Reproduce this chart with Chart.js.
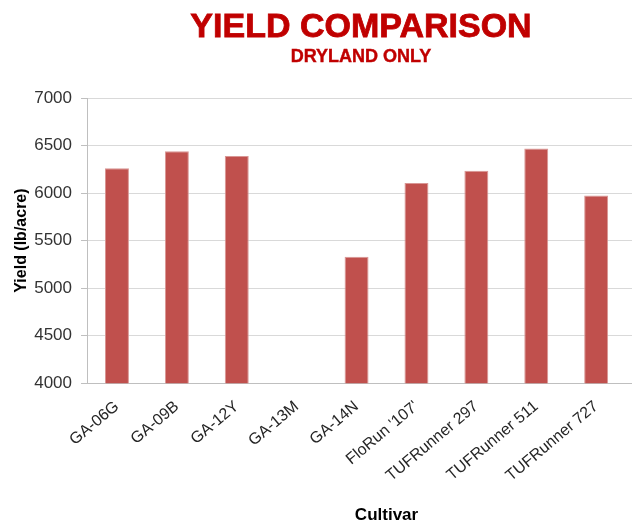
<!DOCTYPE html>
<html>
<head>
<meta charset="utf-8">
<script src="https://cdn.jsdelivr.net/npm/chart.js@4.4.0/dist/chart.umd.min.js"></script>
<style>
  html, body { margin: 0; padding: 0; background: #fff; overflow: hidden; }
  #wrap { position: relative; width: 700px; height: 526px; }
  .title {
    position: absolute; left: 0; width: 722px; text-align: center;
    font-family: 'Liberation Sans', Arial, sans-serif; font-weight: bold; color: #c00000;
    -webkit-text-stroke: 0.8px #c00000;
  }
  #t1 { top: 6px; font-size: 34px; }
  #t2 { top: 46px; font-size: 18px; -webkit-text-stroke: 0.4px #c00000; }
</style>
</head>
<body>
<div id="wrap">
  <div class="title" id="t1">YIELD COMPARISON</div>
  <div class="title" id="t2">DRYLAND ONLY</div>
  <canvas id="yieldChart" width="700" height="526"></canvas>
</div>
<script>
// Cultivars (last one is cut off at the right edge of the picture)
const cultivars = ['GA-06G', 'GA-09B', 'GA-12Y', 'GA-13M', 'GA-14N', "FloRun '107'",
  'TUFRunner 297', 'TUFRunner 511', 'TUFRunner 727', '']

// Dryland yield, lb/acre (GA-13M has no bar)
const yields = [6260, 6440, 6390, null, 5330, 6105, 6235, 6470, 5975, null]

const yMin = 4000
const yMax = 7000
const yStep = 500

const font = "'Liberation Sans', Arial, sans-serif"

new Chart(document.getElementById('yieldChart'), {
  type: 'bar',
  data: {
    labels: cultivars,
    datasets: [{
      label: 'Yield',
      data: yields,
      backgroundColor: '#c0504d',
      borderColor: '#d99694',
      borderWidth: 1,
      barPercentage: 0.4,
      categoryPercentage: 1
    }]
  },
  options: {
    responsive: false,
    animation: false,
    layout: {
      padding: { top: 98, right: 14, bottom: 0, left: 6 }
    },
    plugins: {
      legend: { display: false },
      tooltip: { enabled: false }
    },
    scales: {
      x: {
        grid: { display: false, drawTicks: false },
        border: { color: '#bfbfbf' },
        ticks: {
          minRotation: 40,
          maxRotation: 40,
          autoSkip: false,
          color: '#262626',
          padding: 14,
          font: { family: font, size: 16 }
        },
        title: {
          display: true,
          text: 'Cultivar',
          color: '#000',
          padding: { top: 6, bottom: 0 },
          font: { family: font, size: 17, weight: 'bold' }
        }
      },
      y: {
        min: yMin,
        max: yMax,
        ticks: {
          stepSize: yStep,
          color: '#333',
          padding: 9,
          font: { family: font, size: 17 },
          callback: v => String(v)
        },
        grid: { color: '#d9d9d9', tickLength: 6, tickColor: '#bfbfbf' },
        border: { color: '#bfbfbf' },
        title: {
          display: true,
          text: 'Yield (lb/acre)',
          color: '#000',
          padding: { top: 6, bottom: -6 },
          font: { family: font, size: 16, weight: 'bold' }
        }
      }
    }
  }
})
</script>
</body>
</html>
